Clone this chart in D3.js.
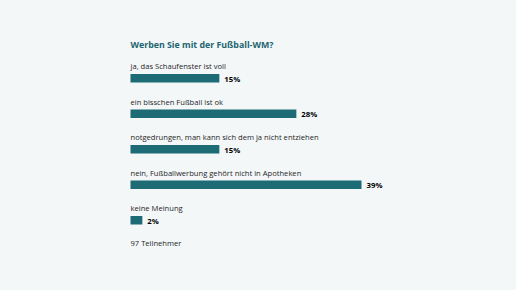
<!DOCTYPE html>
<html>
<head>
<meta charset="utf-8">
<script src="https://cdn.jsdelivr.net/npm/d3@7"></script>
<style>
  html, body { margin: 0; padding: 0; background: #f3f7f8; }
  svg { display: block; font-family: "Open Sans", sans-serif; }
</style>
</head>
<body>
<svg id="chart"></svg>
<script>
const title = "Werben Sie mit der Fußball-WM?"
const answers = [
  "ja, das Schaufenster ist voll",
  "ein bisschen Fußball ist ok",
  "notgedrungen, man kann sich dem ja nicht entziehen",
  "nein, Fußballwerbung gehört nicht in Apotheken",
  "keine Meinung"
]
const shares = [15, 28, 15, 39, 2]
const footer = "97 Teilnehmer"

const width = 516
const height = 290
const left = 130.5
const barColor = "#1d6b74"

const svg = d3.select("#chart").attr("width", width).attr("height", height)

svg.append("rect").attr("width", width).attr("height", height).attr("fill", "#f3f7f8")

svg.append("text")
  .attr("x", left)
  .attr("y", 47.5)
  .attr("fill", "#1d6470")
  .attr("font-size", 8.8)
  .attr("font-weight", 700)
  .text(title)

const x = d3.scaleLinear().domain([0, 39]).range([0, 231])

const y = d3.scaleBand()
  .domain(d3.range(answers.length))
  .range([74, 74 + 35.5 * answers.length])

const rows = svg.selectAll("g.row")
  .data(answers)
  .enter()
  .append("g")
  .attr("class", "row")
  .attr("transform", (d, i) => `translate(${left},${y(i)})`)

rows.append("text")
  .attr("x", 0)
  .attr("y", -5)
  .attr("fill", "#262626")
  .attr("font-size", 7.6)
  .text((d) => d)

rows.append("rect")
  .attr("x", 0)
  .attr("y", 0)
  .attr("width", (d, i) => x(shares[i]))
  .attr("height", 8.5)
  .attr("fill", barColor)

rows.append("text")
  .attr("x", (d, i) => x(shares[i]) + 5)
  .attr("y", 7.5)
  .attr("fill", "#000")
  .attr("font-size", 7.8)
  .attr("font-weight", 700)
  .text((d, i) => shares[i] + "%")

svg.append("text")
  .attr("x", left)
  .attr("y", 245.5)
  .attr("fill", "#262626")
  .attr("font-size", 7.6)
  .text(footer)
</script>
</body>
</html>
